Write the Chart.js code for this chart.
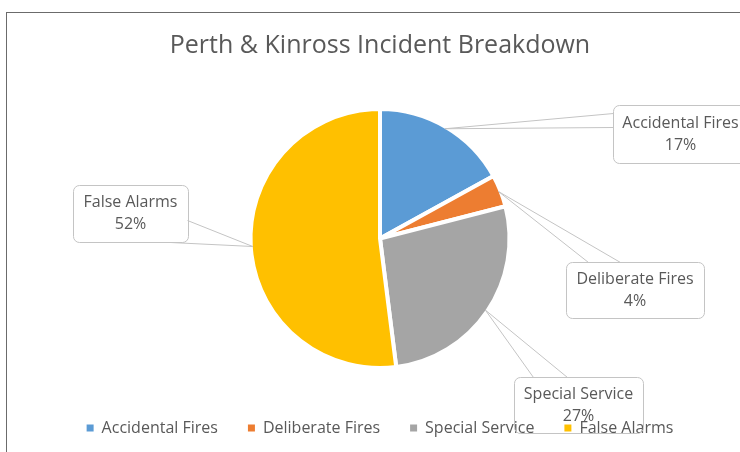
<!DOCTYPE html>
<html>
<head>
<meta charset="utf-8">
<script src="https://cdn.jsdelivr.net/npm/chart.js@4.4.1/dist/chart.umd.min.js"></script>
<style>
  html, body { margin: 0; padding: 0; background: #fff; overflow: hidden; width: 740px; height: 452px; }
  #cadre { position: absolute; left: 6px; top: 12px; width: 800px; height: 500px; border-left: 1px solid #6b6b6b; border-top: 1px solid #6b6b6b; }
  #Chart { position: absolute; left: 0; top: 0; }
</style>
</head>
<body>
<div id="cadre"></div>
<canvas id="Chart" width="766" height="446"></canvas>
<script>
'use strict';
// données du graphique
const titre = 'Perth & Kinross Incident Breakdown';
const categories = ['Accidental Fires', 'Deliberate Fires', 'Special Service', 'False Alarms'];
const valeurs = [17, 4, 27, 52];
const couleurs = ['#5B9BD5', '#ED7D31', '#A5A5A5', '#FFC000'];

// placement des bulles d'étiquettes (x, y, largeur, hauteur, points d'attache du triangle)
const bulles = [
    { x: 613, y: 105, w: 135, h: 58, base: [[0, 8], [0, 22]] },
    { x: 566, y: 262, w: 138, h: 56, base: [[22, 0], [54, 0]] },
    { x: 514, y: 377, w: 129, h: 56, base: [[19, 0], [53, 0]] },
    { x: 73, y: 185, w: 115, h: 57, base: [[114, 35], [97, 57]] }
];

// plugin pour dessiner les bulles avec le triangle vers chaque part
const pluginBulles = {
    id: 'bulles',
    afterDraw(chart) {
        const ctx = chart.ctx;
        const arcs = chart.getDatasetMeta(0).data;
        const total = valeurs.reduce((a, b) => a + b, 0);
        ctx.save();
        ctx.strokeStyle = '#c4c4c4';
        ctx.lineWidth = 1;
        arcs.forEach((arc, i) => {
            const p = arc.getProps(['x', 'y', 'startAngle', 'endAngle', 'outerRadius'], true);
            const milieu = (p.startAngle + p.endAngle) / 2;
            const tx = p.x + Math.cos(milieu) * (p.outerRadius - 2);
            const ty = p.y + Math.sin(milieu) * (p.outerRadius - 2);
            const b = bulles[i];
            // triangle
            ctx.beginPath();
            b.base.forEach(pt => {
                ctx.moveTo(tx, ty);
                ctx.lineTo(b.x + pt[0] + 0.5, b.y + pt[1] + 0.5);
            });
            ctx.stroke();
            // boîte
            ctx.beginPath();
            ctx.roundRect(b.x + 0.5, b.y + 0.5, b.w, b.h, 6);
            ctx.stroke();
            // texte
            ctx.fillStyle = '#595959';
            ctx.font = '16px "Open Sans"';
            ctx.textAlign = 'center';
            ctx.textBaseline = 'middle';
            const cx = b.x + b.w / 2;
            const cy = b.y + b.h / 2;
            ctx.fillText(categories[i], cx, cy - 11);
            ctx.fillText(Math.round(valeurs[i] / total * 100) + '%', cx, cy + 11);
        });
        ctx.restore();
    }
};

const ctx = document.getElementById('Chart').getContext('2d');
new Chart(ctx, {
    type: 'pie',
    data: {
        labels: categories,
        datasets: [{
            data: valeurs,
            backgroundColor: couleurs,
            borderColor: '#ffffff',
            borderWidth: 4,
            radius: 129.5
        }]
    },
    options: {
        responsive: false,
        animation: false,
        layout: { padding: { left: 0, right: 6, top: 0, bottom: 0 } },
        plugins: {
            title: {
                display: true,
                text: titre,
                color: '#595959',
                font: { family: '"Open Sans"', size: 25, weight: 'normal', lineHeight: 1.2 },
                padding: { top: 31, bottom: 26 }
            },
            legend: {
                position: 'bottom',
                labels: {
                    color: '#595959',
                    font: { family: '"Open Sans"', size: 16 },
                    boxWidth: 7,
                    boxHeight: 7,
                    padding: 30,
                    // carrés pleins sans bordure blanche
                    generateLabels: chart => Chart.overrides.pie.plugins.legend.labels.generateLabels(chart)
                        .map(item => ({ ...item, lineWidth: 0 }))
                }
            },
            tooltip: { enabled: false }
        }
    },
    plugins: [pluginBulles]
});
</script>
</body>
</html>
